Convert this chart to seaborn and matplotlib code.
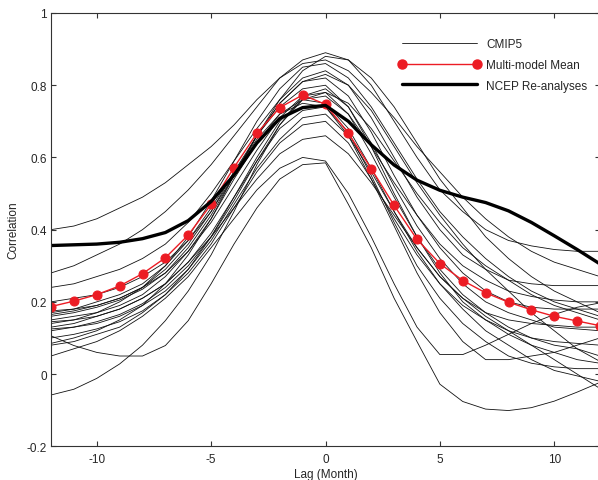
import numpy as np
import pandas as pd
import matplotlib
matplotlib.use('Agg')
import matplotlib.pyplot as plt
import seaborn as sns
from matplotlib.lines import Line2D

# lag axis (months)
lags = list(range(-12, 13))

# CMIP5 individual models, correlation at each lag
cmip5 = {
    'm01': [0.40, 0.41, 0.43, 0.46, 0.49, 0.53, 0.58, 0.63, 0.69, 0.76, 0.82, 0.86, 0.87, 0.84, 0.78, 0.71, 0.63, 0.56, 0.49, 0.43, 0.38, 0.34, 0.31, 0.29, 0.27],
    'm02': [0.28, 0.30, 0.33, 0.36, 0.40, 0.45, 0.51, 0.58, 0.66, 0.74, 0.82, 0.87, 0.89, 0.87, 0.80, 0.70, 0.60, 0.51, 0.45, 0.40, 0.37, 0.355, 0.345, 0.34, 0.34],
    'm03': [0.24, 0.25, 0.27, 0.29, 0.32, 0.36, 0.42, 0.50, 0.59, 0.68, 0.76, 0.82, 0.84, 0.80, 0.71, 0.60, 0.49, 0.40, 0.33, 0.29, 0.26, 0.25, 0.245, 0.245, 0.245],
    'm04': [0.20, 0.21, 0.22, 0.24, 0.27, 0.31, 0.37, 0.45, 0.55, 0.66, 0.76, 0.84, 0.88, 0.87, 0.82, 0.74, 0.64, 0.54, 0.46, 0.38, 0.32, 0.27, 0.23, 0.20, 0.17],
    'm05': [0.175, 0.18, 0.19, 0.21, 0.24, 0.29, 0.36, 0.45, 0.56, 0.66, 0.74, 0.79, 0.80, 0.74, 0.64, 0.52, 0.41, 0.32, 0.25, 0.20, 0.17, 0.15, 0.13, 0.125, 0.12],
    'm06': [0.165, 0.175, 0.19, 0.21, 0.24, 0.28, 0.34, 0.42, 0.52, 0.62, 0.71, 0.77, 0.78, 0.72, 0.61, 0.49, 0.38, 0.29, 0.22, 0.17, 0.13, 0.10, 0.08, 0.07, 0.05],
    'm07': [0.15, 0.16, 0.17, 0.19, 0.22, 0.27, 0.34, 0.43, 0.54, 0.64, 0.72, 0.76, 0.75, 0.68, 0.57, 0.45, 0.35, 0.27, 0.21, 0.17, 0.15, 0.14, 0.135, 0.13, 0.13],
    'm08': [0.14, 0.15, 0.17, 0.20, 0.24, 0.30, 0.38, 0.48, 0.59, 0.70, 0.79, 0.85, 0.86, 0.82, 0.74, 0.64, 0.54, 0.45, 0.38, 0.32, 0.27, 0.23, 0.20, 0.18, 0.16],
    'm09': [0.13, 0.14, 0.16, 0.18, 0.21, 0.25, 0.31, 0.39, 0.49, 0.59, 0.68, 0.73, 0.74, 0.67, 0.55, 0.42, 0.30, 0.21, 0.14, 0.09, 0.05, 0.03, 0.02, 0.015, 0.015],
    'm10': [0.12, 0.13, 0.14, 0.16, 0.19, 0.23, 0.29, 0.37, 0.47, 0.57, 0.65, 0.71, 0.72, 0.66, 0.56, 0.45, 0.34, 0.25, 0.18, 0.12, 0.08, 0.04, 0.01, -0.005, -0.02],
    'm11': [0.106, 0.079, 0.06, 0.05, 0.05, 0.079, 0.148, 0.25, 0.36, 0.46, 0.54, 0.58, 0.585, 0.47, 0.35, 0.21, 0.09, -0.028, -0.076, -0.097, -0.101, -0.093, -0.075, -0.05, -0.023],
    'm12': [0.10, 0.11, 0.125, 0.145, 0.175, 0.22, 0.29, 0.38, 0.49, 0.60, 0.70, 0.76, 0.77, 0.72, 0.63, 0.53, 0.44, 0.36, 0.30, 0.26, 0.23, 0.215, 0.205, 0.20, 0.20],
    'm13': [0.085, 0.10, 0.12, 0.15, 0.19, 0.25, 0.33, 0.43, 0.55, 0.66, 0.75, 0.81, 0.82, 0.77, 0.67, 0.55, 0.44, 0.35, 0.28, 0.23, 0.20, 0.185, 0.18, 0.18, 0.18],
    'm14': [0.08, 0.09, 0.11, 0.13, 0.17, 0.22, 0.28, 0.36, 0.46, 0.56, 0.64, 0.69, 0.70, 0.64, 0.54, 0.43, 0.33, 0.25, 0.19, 0.15, 0.12, 0.10, 0.09, 0.085, 0.08],
    'm15': [0.05, 0.07, 0.09, 0.12, 0.16, 0.21, 0.27, 0.35, 0.43, 0.51, 0.57, 0.60, 0.59, 0.50, 0.38, 0.25, 0.13, 0.054, 0.054, 0.08, 0.11, 0.14, 0.165, 0.185, 0.197],
    'm16': [-0.058, -0.042, -0.012, 0.028, 0.08, 0.148, 0.23, 0.33, 0.45, 0.58, 0.69, 0.77, 0.79, 0.74, 0.63, 0.50, 0.38, 0.28, 0.20, 0.15, 0.11, 0.08, 0.06, 0.04, 0.03],
    'm17': [0.17, 0.18, 0.20, 0.22, 0.25, 0.30, 0.37, 0.46, 0.56, 0.65, 0.72, 0.75, 0.74, 0.66, 0.54, 0.41, 0.28, 0.17, 0.09, 0.04, 0.04, 0.05, 0.06, 0.08, 0.10],
    'm18': [0.16, 0.17, 0.185, 0.205, 0.235, 0.28, 0.35, 0.44, 0.55, 0.66, 0.75, 0.81, 0.83, 0.80, 0.73, 0.63, 0.53, 0.44, 0.36, 0.29, 0.23, 0.17, 0.12, 0.07, 0.035],
    'm19': [0.145, 0.15, 0.16, 0.18, 0.21, 0.25, 0.31, 0.38, 0.46, 0.54, 0.61, 0.65, 0.66, 0.61, 0.53, 0.44, 0.35, 0.27, 0.21, 0.16, 0.12, 0.08, 0.04, 0.0, -0.04],
    'm20': [0.125, 0.13, 0.145, 0.165, 0.195, 0.24, 0.30, 0.38, 0.48, 0.59, 0.69, 0.76, 0.78, 0.75, 0.68, 0.59, 0.50, 0.42, 0.35, 0.30, 0.26, 0.22, 0.19, 0.17, 0.15],
}

mmm = [0.187, 0.202, 0.220, 0.244, 0.278, 0.322, 0.385, 0.470, 0.572, 0.667, 0.738, 0.773, 0.747,
       0.667, 0.569, 0.467, 0.373, 0.306, 0.259, 0.225, 0.199, 0.178, 0.160, 0.147, 0.134]

ncep = [0.356, 0.358, 0.360, 0.365, 0.375, 0.392, 0.425, 0.478, 0.551, 0.640, 0.708, 0.738, 0.744,
        0.700, 0.635, 0.579, 0.537, 0.509, 0.490, 0.475, 0.452, 0.420, 0.383, 0.345, 0.305]

xticks = [-10, -5, 0, 5, 10]
xticklabels = ['-10', '-5', '0', '5', '10']
yticks = [-0.2, 0, 0.2, 0.4, 0.6, 0.8, 1.0]
yticklabels = ['-0.2', '0', '0.2', '0.4', '0.6', '0.8', '1']

legend_labels = ['CMIP5', 'Multi-model Mean', 'NCEP Re-analyses']

# long format for seaborn
df = pd.DataFrame([(name, lag, v) for name, vals in cmip5.items() for lag, v in zip(lags, vals)],
                  columns=['model', 'lag', 'corr'])

sns.set_style('ticks')
plt.rcParams['font.family'] = ['Liberation Sans', 'DejaVu Sans']
plt.rcParams['axes.unicode_minus'] = False
plt.rcParams['xtick.direction'] = 'in'
plt.rcParams['ytick.direction'] = 'in'

red = '#ec1c24'
fs = 8.5

fig = plt.figure(figsize=(5.98, 4.81), dpi=100)
ax = fig.add_axes([51 / 598, 0.0701, 549 / 598, 0.9008])

sns.lineplot(data=df, x='lag', y='corr', units='model', estimator=None,
             color='#111111', lw=0.6, ax=ax, legend=False)
sns.lineplot(x=lags, y=mmm, color=red, lw=1.0, marker='o', markersize=6.5,
             markeredgecolor=red, ax=ax, legend=False)
sns.lineplot(x=lags, y=ncep, color='black', lw=2.4, ax=ax, legend=False)

ax.set_xlim(-12, 12)
ax.set_ylim(-0.2, 1.0)
ax.set_xticks(xticks)
ax.set_xticklabels(xticklabels)
ax.set_yticks(yticks)
ax.set_yticklabels(yticklabels)
ax.tick_params(top=True, right=True, length=3.5, width=0.8, labelsize=fs, color='#333333')
ax.tick_params(axis='x', pad=5)
ax.tick_params(axis='y', pad=3)
for s in ax.spines.values():
    s.set_color('#333333')
    s.set_linewidth(0.8)
ax.set_xlabel('Lag (Month)', fontsize=fs, labelpad=2)
ax.set_ylabel('Correlation', fontsize=fs, labelpad=5)

handles = [
    Line2D([], [], color='#111111', lw=0.6),
    Line2D([], [], color=red, lw=1.0, marker='o', markersize=6.5),
    Line2D([], [], color='black', lw=2.4),
]
ax.legend(handles, legend_labels, loc='upper left', bbox_to_anchor=(0.613, 0.967),
          frameon=False, handlelength=7.0, handletextpad=0.45, numpoints=2,
          labelspacing=0.75, fontsize=fs)

fig.savefig('out.png', dpi=100)
